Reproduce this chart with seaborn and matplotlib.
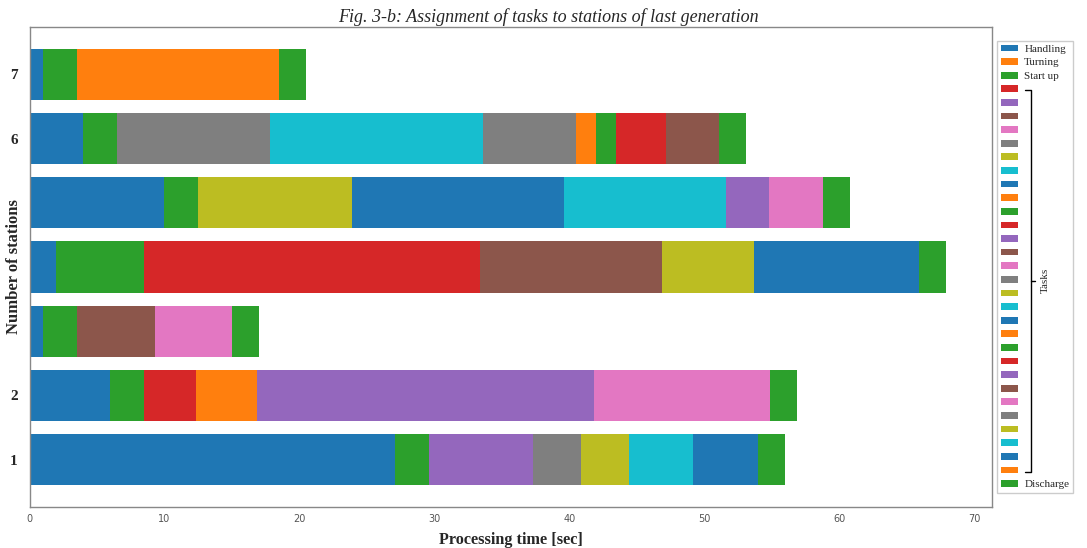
import pandas as pd
import matplotlib
matplotlib.use("Agg")
import matplotlib.pyplot as plt
from matplotlib.patches import Patch
from matplotlib.lines import Line2D
import seaborn as sns

# Stations (bottom to top) and the tick labels printed next to them
stations = ["1", "2", "3", "4", "5", "6", "7"]
station_tick_labels = ["1", "2", "", "", "", "6", "7"]

# Fixed operations per station [sec]
handling = [27.1, 6.0, 1.0, 2.0, 10.0, 4.0, 1.0]
turning = [0.0, 0.0, 0.0, 0.0, 0.0, 0.0, 0.0]
start_up = [2.5, 2.5, 2.5, 2.5, 2.5, 2.5, 2.5]
discharge = [2.0, 2.0, 2.0, 2.0, 2.0, 2.0, 2.0]

# Tasks 1..29: station each task is assigned to, and its duration [sec]
task_station = ["2", "1", "3", "3", "6", "5", "6", "5", "2", "4",
                "4", "2", "4", "2", "6", "4", "5", "4", "6", "6",
                "6", "5", "6", "5", "1", "1", "1", "1", "7"]
task_time = [3.85, 7.7, 5.8, 5.7, 11.3, 11.4, 15.8, 15.7, 4.5, 3.95,
             24.95, 24.95, 13.45, 13.1, 6.9, 6.85, 12.0, 12.2, 1.5, 1.5,
             3.7, 3.2, 3.9, 4.0, 3.55, 3.55, 4.8, 4.8, 15.0]

W, H = 1087, 548
SERIF = "Liberation Serif"


def fig_xy(x, y):
    # pixel position in the figure -> figure fraction
    return x / W, 1 - y / H


# Build the station x operation table (one column per stacked segment)
task_names = [f"Task {i + 1}" for i in range(len(task_time))]
columns = ["Handling", "Turning", "Start up"] + task_names + ["Discharge"]
table = pd.DataFrame(0.0, index=stations, columns=columns)
table["Handling"] = handling
table["Turning"] = turning
table["Start up"] = start_up
for name, st, t in zip(task_names, task_station, task_time):
    table.loc[st, name] = t
table["Discharge"] = discharge
ends = table.cumsum(axis=1)

palette = sns.color_palette("tab10", 10)
sns.set_style("white")

fig = plt.figure(figsize=(W / 100, H / 100), dpi=100)
ax = fig.add_axes([29.5 / W, 1 - 507 / H, 962 / W, 480 / H])

# Stacked bars: draw cumulative ends from the last segment back to the first
order = stations[::-1]
for j in range(len(columns) - 1, -1, -1):
    seg = pd.DataFrame({"station": stations, "end": ends.iloc[:, j].values})
    sns.barplot(data=seg, x="end", y="station", order=order, orient="h",
                color=palette[j % 10], saturation=1, width=0.8,
                errorbar=None, linewidth=0, ax=ax)

ax.set_xlim(0, ends.values.max() * 1.05)
ax.set_ylim(len(stations) - 1 + 0.74, -0.74)

ax.set_xticks(range(0, 71, 10))
ax.set_xticklabels([str(v) for v in range(0, 71, 10)],
                   fontfamily="DejaVu Sans", fontsize=7, color="#555555")
ax.set_yticks(range(len(stations)))
ax.set_yticklabels(station_tick_labels[::-1], fontfamily=SERIF,
                   fontweight="bold", fontsize=11)
ax.tick_params(axis="x", length=2.5, width=0.8, color="#808080", pad=2.5)
ax.tick_params(axis="y", length=2.5, width=0.8, color="#808080", pad=6)
for sp in ax.spines.values():
    sp.set_visible(True)
    sp.set_color("#888888")
    sp.set_linewidth(1.0)

ax.set_xlabel("Processing time [sec]", fontfamily=SERIF, fontweight="bold",
              fontsize=11.7, labelpad=6)
ax.set_ylabel("Number of stations", fontfamily=SERIF, fontweight="bold",
              fontsize=12)
ax.yaxis.set_label_coords(-0.008, 0.5)

fig.text(*fig_xy(548, 21.5), "Fig. 3-b: Assignment of tasks to stations of last generation",
         ha="center", va="baseline", fontfamily=SERIF, fontstyle="italic",
         fontsize=13)

# Legend: only the fixed operations are named, tasks share a bracket
legend_labels = ["Handling", "Turning", "Start up"] + [""] * len(task_names) + ["Discharge"]
handles = [Patch(facecolor=palette[j % 10], edgecolor="none") for j in range(len(columns))]
ax.legend(handles, legend_labels, loc="center left", bbox_to_anchor=(1, 0.5),
          prop={"family": SERIF, "size": 8}, labelspacing=0.39,
          handlelength=1.5, handleheight=0.55, handletextpad=0.6,
          borderpad=0.35, fancybox=False, edgecolor="#cccccc", framealpha=1,
          borderaxespad=0.5)

# Bracket marking the task entries
bx = 1031
pts = [fig_xy(1025, 90), fig_xy(bx, 90), fig_xy(bx, 471.5), fig_xy(1025, 471.5)]
fig.add_artist(Line2D([p[0] for p in pts], [p[1] for p in pts],
                      color="black", linewidth=1, transform=fig.transFigure))
mid = [fig_xy(bx, 280.5), fig_xy(1035, 280.5)]
fig.add_artist(Line2D([p[0] for p in mid], [p[1] for p in mid],
                      color="black", linewidth=1, transform=fig.transFigure))
fig.text(*fig_xy(1045, 280), "Tasks", rotation=90, ha="center", va="center",
         fontfamily=SERIF, fontsize=8)

fig.savefig("out.png", dpi=100)
